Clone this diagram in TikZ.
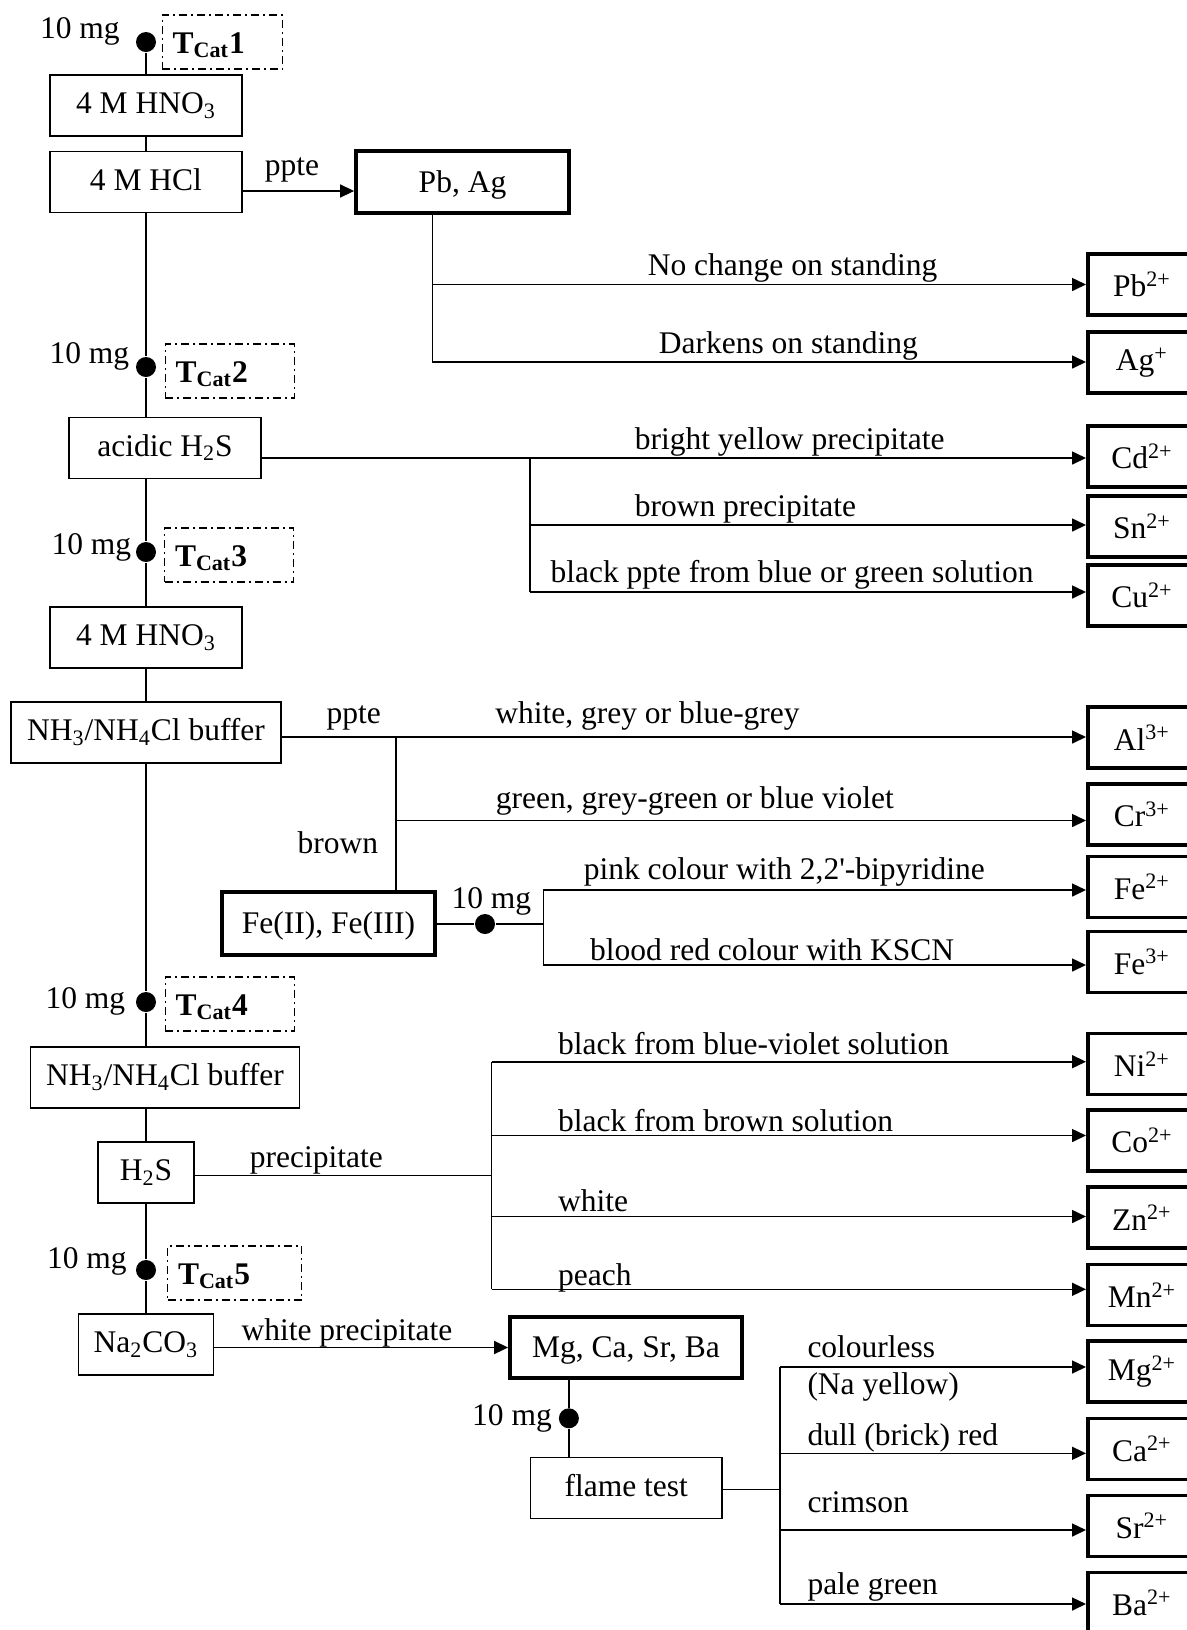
\documentclass[tikz,border=0pt]{standalone}
\usepackage{fontspec}
\setmainfont{Liberation Serif}
\usetikzlibrary{calc,arrows.meta}

\tikzset{
	box/.style={draw, minimum height=30.5pt, inner sep=2pt, text height=11.5pt, text depth=3.5pt},
	keybox/.style={box, line width=1.9pt, text height=12.5pt, text depth=2.5pt},
	ion/.style={draw, line width=1.9pt, minimum height=30.5pt, inner sep=2pt, minimum width=54pt, anchor=west},
	tcat/.style={draw, line width=0.7pt, dash pattern=on 4pt off 2pt on 1pt off 2pt, minimum height=27pt, text width=54pt, inner xsep=5.25pt, align=left, anchor=west, text height=12.5pt, text depth=1.5pt},
	dot/.style={circle, fill, inner sep=0pt, minimum size=10pt},
	lbl/.style={inner sep=0pt, anchor=base west},
	arr/.style={-{Triangle[length=7pt,width=6.5pt]}}
}

\begin{document}
\begin{tikzpicture}[x=0.5pt,y=-0.5pt,line width=0.8pt,font=\fontsize{15.75}{18}\selectfont]

		\useasboundingbox (0,0) rectangle (1187,1630);

		% main column
		\node[box, minimum width=96pt] (hnoA) at (146,105.5) {4 M HNO\textsubscript{3}};
		\node[box, minimum width=96pt] (hcl) at (146,182) {4 M HCl};
		\node[box, minimum width=96pt] (acid) at (165,448) {acidic H\textsubscript{2}S};
		\node[box, minimum width=96pt] (hnoB) at (146,637.5) {4 M HNO\textsubscript{3}};
		\node[box, minimum width=135pt] (bufA) at (146,732.7) {NH\textsubscript{3}/NH\textsubscript{4}Cl buffer};
		\node[box, minimum width=134.5pt] (bufB) at (165,1077.4) {NH\textsubscript{3}/NH\textsubscript{4}Cl buffer};
		\node[box, minimum width=48.2pt] (hs) at (146,1172.4) {H\textsubscript{2}S};
		\node[box, minimum width=67.4pt] (na) at (146,1344.7) {Na\textsubscript{2}CO\textsubscript{3}};

		% groups
		\node[keybox, minimum width=106.5pt, minimum height=31pt] (pbag) at (462.5,182) {Pb, Ag};
		\node[keybox, minimum width=106.5pt, minimum height=31.5pt] (fe) at (328.5,923.5) {Fe(II), Fe(III)};
		\node[keybox, minimum width=116pt] (alk) at (626,1347.5) {Mg, Ca, Sr, Ba};
		\node[box, minimum width=95.7pt] (flame) at (626.3,1488) {flame test};

		% samples
		\node[dot] (dA) at (146,42) {};
		\node[dot] (dB) at (146,367) {};
		\node[dot] (dC) at (146,552) {};
		\node[dot] (dD) at (146,1002) {};
		\node[dot] (dE) at (146,1270) {};
		\node[dot] (dFe) at (485,924) {};
		\node[dot] (dMg) at (568.9,1418.3) {};

		\node[lbl, anchor=base east] (mA) at (120.5,38) {10 mg};
		\node[lbl, anchor=base east] (mB) at (130,363) {10 mg};
		\node[lbl, anchor=base east] (mC) at (132,554) {10 mg};
		\node[lbl, anchor=base east] (mD) at (126,1008) {10 mg};
		\node[lbl, anchor=base east] (mE) at (127.5,1268) {10 mg};
		\node[lbl, anchor=base east] (mFe) at (532,908) {10 mg};
		\node[lbl, anchor=base east] (mMg) at (552.6,1425) {10 mg};

		\node[tcat, text width=49.75pt] (tA) at (161.5,42) {\textbf{T\textsubscript{Cat}1}};
		\node[tcat] (tB) at (164.5,371) {\textbf{T\textsubscript{Cat}2}};
		\node[tcat] (tC) at (163.8,555) {\textbf{T\textsubscript{Cat}3}};
		\node[tcat] (tD) at (164.5,1004) {\textbf{T\textsubscript{Cat}4}};
		\node[tcat, text width=56.5pt] (tE) at (166.8,1273) {\textbf{T\textsubscript{Cat}5}};

		% ions
		\node[ion] (pb) at (1086,284.5) {Pb\textsuperscript{2+}};
		\node[ion] (ag) at (1086,362.5) {Ag\textsuperscript{+}};
		\node[ion] (cd) at (1086,456.5) {Cd\textsuperscript{2+}};
		\node[ion] (sn) at (1086,526.5) {Sn\textsuperscript{2+}};
		\node[ion] (cu) at (1086,595.5) {Cu\textsuperscript{2+}};
		\node[ion] (al) at (1086,737.5) {Al\textsuperscript{3+}};
		\node[ion] (cr) at (1086,814.5) {Cr\textsuperscript{3+}};
		\node[ion] (feII) at (1086,887) {Fe\textsuperscript{2+}};
		\node[ion] (feIII) at (1086,962) {Fe\textsuperscript{3+}};
		\node[ion] (ni) at (1086,1064) {Ni\textsuperscript{2+}};
		\node[ion] (co) at (1086,1140.5) {Co\textsuperscript{2+}};
		\node[ion] (zn) at (1086,1217.5) {Zn\textsuperscript{2+}};
		\node[ion] (mn) at (1086,1295) {Mn\textsuperscript{2+}};
		\node[ion] (mg) at (1086,1371.7) {Mg\textsuperscript{2+}};
		\node[ion] (ca) at (1086,1449) {Ca\textsuperscript{2+}};
		\node[ion] (sr) at (1086,1526) {Sr\textsuperscript{2+}};
		\node[ion] (ba) at (1086,1603) {Ba\textsuperscript{2+}};

		% branch points
		\coordinate (jPb) at (432.4,284.5);
		\coordinate (jAg) at (432.4,362);
		\coordinate (jCd) at (530,458);
		\coordinate (jSn) at (530,525);
		\coordinate (jCu) at (530,592);
		\coordinate (jAl) at (396,737);
		\coordinate (jCr) at (396,820.5);
		\coordinate (jFe) at (543.4,924);
		\coordinate (jFeII) at (543.4,890);
		\coordinate (jFeIII) at (543.4,965);
		\coordinate (jHs) at (491.5,1175.5);
		\coordinate (jNi) at (491.5,1061.7);
		\coordinate (jCo) at (491.5,1135.5);
		\coordinate (jZn) at (491.5,1216.5);
		\coordinate (jMn) at (491.5,1289.3);
		\coordinate (jFl) at (779.8,1489.3);
		\coordinate (jMg) at (779.8,1367);
		\coordinate (jCa) at (779.8,1453.3);
		\coordinate (jSr) at (779.8,1530);
		\coordinate (jBa) at (779.8,1604);

		% main column lines
		\draw (dA) -- (hnoA);
		\draw (hnoA) -- (hcl);
		\draw (hcl) -- (dB) -- (dB |- acid.north);
		\draw (dB |- acid.south) -- (dC) -- (hnoB);
		\draw (hnoB) -- (bufA);
		\draw (bufA) -- (dD) -- (dD |- bufB.north);
		\draw (dD |- bufB.south) -- (hs);
		\draw (hs) -- (dE) -- (na);

		% Pb, Ag
		\draw[arr] ([yshift=-4.5pt]hcl.east) -- ([yshift=-4.5pt]pbag.west);
		\draw (pbag.south -| jAg) -- (jAg);
		\draw[arr] (jPb) -- (pb.west |- jPb);
		\draw[arr] (jAg) -- (ag.west |- jAg);

		% acidic H2S
		\draw[arr] (acid.east |- jCd) -- (cd.west |- jCd);
		\draw (jCd) -- (jCu);
		\draw[arr] (jSn) -- (sn.west |- jSn);
		\draw[arr] (jCu) -- (cu.west |- jCu);

		% buffer
		\draw[arr] (bufA.east |- jAl) -- (al.west |- jAl);
		\draw (jAl) -- (jAl |- fe.north);
		\draw[arr] (jCr) -- (cr.west |- jCr);
		\draw (fe.east |- jFe) -- (dFe) -- (jFe);
		\draw (jFeII) -- (jFeIII);
		\draw[arr] (jFeII) -- (feII.west |- jFeII);
		\draw[arr] (jFeIII) -- (feIII.west |- jFeIII);

		% H2S
		\draw (hs.east |- jHs) -- (jHs);
		\draw (jNi) -- (jMn);
		\draw[arr] (jNi) -- (ni.west |- jNi);
		\draw[arr] (jCo) -- (co.west |- jCo);
		\draw[arr] (jZn) -- (zn.west |- jZn);
		\draw[arr] (jMn) -- (mn.west |- jMn);

		% Na2CO3
		\draw[arr] (na.east |- alk.west) -- (alk.west);
		\draw (alk.south -| dMg) -- (dMg) -- (dMg |- flame.north);
		\draw (flame.east |- jFl) -- (jFl);
		\draw (jMg) -- (jBa);
		\draw[arr] (jMg) -- (mg.west |- jMg);
		\draw[arr] (jCa) -- (ca.west |- jCa);
		\draw[arr] (jSr) -- (sr.west |- jSr);
		\draw[arr] (jBa) -- (ba.west |- jBa);

		% labels
		\node[lbl] (lPpteA) at (264,175) {ppte};
		\node[lbl] (lPb) at (647,275) {No change on standing};
		\node[lbl] (lAg) at (658,353.5) {Darkens on standing};
		\node[lbl] (lCd) at (634,449) {bright yellow precipitate};
		\node[lbl] (lSn) at (634,516) {brown precipitate};
		\node[lbl] (lCu) at (549.8,582.7) {black ppte from blue or green solution};
		\node[lbl] (lPpteB) at (325.7,723) {ppte};
		\node[lbl] (lAl) at (494.5,723) {white, grey or blue-grey};
		\node[lbl] (lCr) at (495,808.3) {green, grey-green or blue violet};
		\node[lbl, anchor=base east] (lBrown) at (379,853) {brown};
		\node[lbl] (lFeII) at (583,879) {pink colour with 2,2\textquotesingle-bipyridine};
		\node[lbl] (lFeIII) at (589.4,960) {blood red colour with KSCN};
		\node[lbl] (lNi) at (557.3,1054) {black from blue-violet solution};
		\node[lbl] (lCo) at (557.3,1131) {black from brown solution};
		\node[lbl] (lZn) at (557.3,1211) {white};
		\node[lbl] (lMn) at (557.3,1285) {peach};
		\node[lbl] (lHs) at (249,1167.7) {precipitate};
		\node[lbl] (lNa) at (240.8,1340) {white precipitate};
		\node[lbl] (lMg) at (806.7,1357.7) {colourless};
		\node[lbl] (lNa2) at (806.7,1394) {(Na yellow)};
		\node[lbl] (lCa) at (806.7,1445) {dull (brick) red};
		\node[lbl] (lSr) at (806.7,1512.7) {crimson};
		\node[lbl] (lBa) at (806.7,1594) {pale green};

	\end{tikzpicture}
\end{document}
